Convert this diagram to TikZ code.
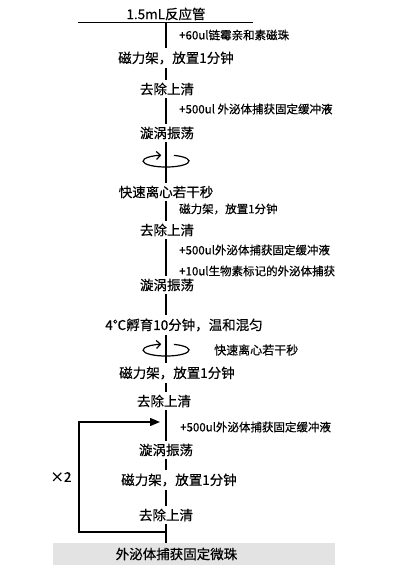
\documentclass[tikz,border=0pt]{standalone}
\usepackage{fontspec}
\newfontfamily\cjk[FakeBold=0.4]{Noto Sans CJK SC}
\usetikzlibrary{arrows.meta,positioning}

\begin{document}
\begin{tikzpicture}[x=1pt,y=-1pt,
  stepnode/.style={font=\cjk\fontsize{13.5}{16}\selectfont, inner sep=3pt},
  note/.style={font=\cjk\fontsize{11.5}{14}\selectfont, anchor=west, inner sep=1pt},
  finalbox/.style={fill=gray!22, minimum width=282pt, minimum height=22pt, inner sep=0pt,
    font=\cjk\fontsize{13.5}{16}\selectfont},
  flow/.style={line width=1.7pt},
  again/.style={line width=1.4pt, -{Triangle[length=10pt,width=8pt]}},
  spin/.style={line width=1.2pt, -{Straight Barb[length=4pt,width=8pt]}}]

\useasboundingbox (0,0) rectangle (413,572);

% Main column of steps
\node[stepnode] (tube) at (166,14) {1.5mL反应管};
\coordinate (barL) at (78,23);
\coordinate (barR) at (253,23);
\coordinate (bar) at (166,23);
\coordinate (spine) at (166,0);

\node[stepnode] (rack1) at (176,58) {磁力架，放置1分钟};
\node[stepnode] (rm1) at (167,89) {去除上清};
\node[stepnode] (vortex1) at (167,133) {漩涡振荡};
\coordinate (spinA) at (166,161);
\node[stepnode] (cent1) at (166,192) {快速离心若干秒};
\node[stepnode] (rm2) at (167,230) {去除上清};
\node[stepnode] (vortex2) at (167,285) {漩涡振荡};
\node[stepnode] (inc) at (184,325) {4℃孵育10分钟，温和混匀};
\coordinate (spinB) at (166,350);
\node[stepnode] (rack3) at (177,373) {磁力架，放置1分钟};
\node[stepnode] (rm3) at (164,401) {去除上清};
\node[stepnode] (vortex3) at (166,450) {漩涡振荡};
\node[stepnode] (rack4) at (179,480) {磁力架，放置1分钟};
\node[stepnode] (rm4) at (166,515) {去除上清};
\node[finalbox] (final) at (194,554) {\hspace*{-35pt}外泌体捕获固定微珠};

% Side notes
\node[note] (add1) at (178,35) {+60ul链霉亲和素磁珠};
\node[note] (add2) at (178,109) {+500ul 外泌体捕获固定缓冲液};
\node[note] (rack2) at (178,209) {磁力架，放置1分钟};
\node[note] (add3) at (178,250) {+500ul外泌体捕获固定缓冲液};
\node[note] (add4) at (178,271) {+10ul生物素标记的外泌体捕获};
\node[note, font=\cjk\fontsize{12}{14}\selectfont] (cent2) at (213,350) {快速离心若干秒};
\node[note] (add5) at (179,427) {+500ul外泌体捕获固定缓冲液};

% Lines between the steps
\draw[line width=1pt] (barL) -- (barR);
\draw[flow] (bar) -- (rack1.north -| spine);
\foreach \a/\b in {rack1/rm1, rm1/vortex1, vortex1/cent1, cent1/rm2, rm2/vortex2,
  vortex2/inc, inc/rack3, rack3/rm3, rm3/vortex3, vortex3/rack4, rack4/rm4, rm4/final}
  \draw[flow] (\a.south -| spine) -- (\b.north -| spine);

% Spin marks
\foreach \s in {spinA,spinB}
  \draw[spin] ([shift={(7.9,-5.6)}]\s) arc[start angle=-70, end angle=258, x radius=23, y radius=6];

% Repeat loop
\coordinate (loopout) at (166,532);
\coordinate (loopleft) at (79,477);
\coordinate (loopin) at (160,422);
\draw[again] (loopout) -| (loopleft) |- (loopin);
\node[font=\cjk\fontsize{13.5}{16}\selectfont, left=4pt of loopleft] (times) {×2};

\end{tikzpicture}
\end{document}
